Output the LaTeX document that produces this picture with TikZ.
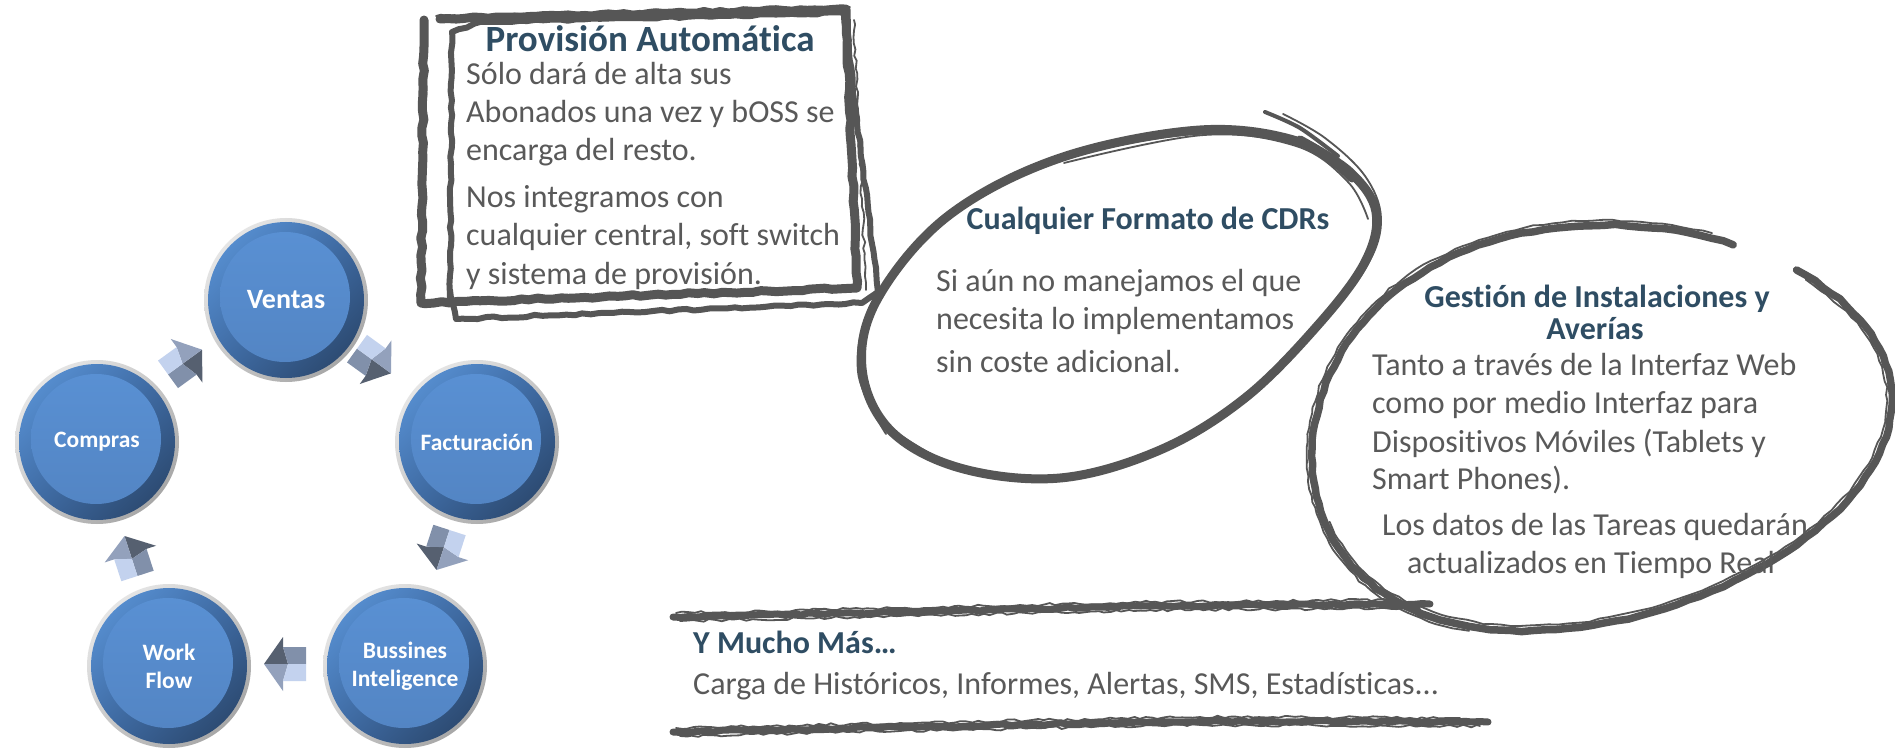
\documentclass[tikz,border=0pt]{standalone}
\usepackage{fontspec}
\setmainfont{Carlito}[Ligatures=NoCommon]
\usetikzlibrary{decorations.pathmorphing,shadings}
\definecolor{skc}{HTML}{565656}
\definecolor{bodyc}{HTML}{595959}
\definecolor{titc}{HTML}{2F4D63}
\definecolor{rimA}{HTML}{F2F2F2}
\definecolor{rimB}{HTML}{C8C8C8}
\definecolor{rimC}{HTML}{999999}
\definecolor{ringA}{HTML}{5E9ADF}
\definecolor{ringB}{HTML}{3E6AA3}
\definecolor{ringC}{HTML}{263F60}
\definecolor{discA}{HTML}{5990D3}
\definecolor{discB}{HTML}{5385C4}
\definecolor{arD}{HTML}{566070}
\definecolor{arM}{HTML}{8190AA}
\definecolor{arL}{HTML}{C3D2EE}
\definecolor{arN}{HTML}{93A1BC}
\begin{document}
\begin{tikzpicture}[x=1pt,y=-1pt,
  ctext/.style={text=white, font=\fontsize{23.5}{28}\selectfont\bfseries, align=center, inner sep=0pt},
  body/.style={text=bodyc, font=\fontsize{32}{38}\selectfont, inner sep=0pt},
  ttl/.style={text=titc, font=\fontsize{32}{30}\selectfont\bfseries, inner sep=0pt},
  sketch/.style={draw=skc, line join=round, line cap=round},
  rough/.style={sketch, decorate, decoration={random steps, segment length=8pt, amplitude=1pt}},
  strand/.style={rough, line width=1.8pt, decoration={random steps, segment length=6pt, amplitude=1.4pt}},
  cstrand/.style={sketch, line width=1.8pt},
  carrow/.pic={
    \fill[arD] (21,0) -- (2,27) -- (2,17) -- (-3,0) -- cycle;
    \fill[arN] (21,0) -- (2,-27) -- (2,-17) -- (-3,0) -- cycle;
    \fill[arM] (-3,0) -- (2,17) -- (-21,17) -- (-21,0) -- cycle;
    \fill[arL] (-3,0) -- (2,-17) -- (-21,-17) -- (-21,0) -- cycle;
  }]
\pgfmathsetseed{7}
\useasboundingbox (0,0) rectangle (1895,751);
\fill[white] (0,0) rectangle (1895,751);

% ---------- cycle ----------
\foreach \n/\cx/\cy in {ventas/286/300,fact/477/442,buss/405/666,work/169/666,compras/97/442}{
  \coordinate (\n) at (\cx,\cy);
  \shade[upper left=rimA, upper right=rimB, lower left=rimB, lower right=rimC] (\n) circle (82pt);
  \shade[upper left=ringA, upper right=ringB, lower left=ringB, lower right=ringC] (\n) circle (78pt);
  \shade[top color=discA, bottom color=discB] ([shift={(-1,-3)}]\n) circle (65pt);
}
\node[ctext, font=\fontsize{28}{30}\selectfont\bfseries] (ventasT) at (ventas) {Ventas};
\node[ctext] (factT) at (fact) {Facturación};
\node[ctext] (bussT) at (buss) {Bussines\\Inteligence};
\node[ctext] (workT) at (work) {Work\\Flow};
\node[ctext] (comprasT) at (compras) {Compras};

\pic[rotate=-36] (a1) at (374,361) {carrow};
\pic[rotate=-108] (a2) at (443,550) {carrow};
\pic[rotate=180] (a3) at (285,664) {carrow};
\pic[rotate=108] (a4) at (131,556) {carrow};
\pic[rotate=36] (a5) at (185,362) {carrow};

% ---------- Provision box ----------
\draw[rough, line width=9pt] (440,19) -- (846,9) -- (857,288) -- (421,303) -- (424,20);
\draw[rough, line width=6pt] (424,30) -- (421,298);
\draw[rough, line width=6pt] (450,300) -- (452,32) -- (480,22) -- (844,13) -- (878,292) -- (862,303) -- (456,319) -- (450,290);
\draw[strand] (436,16) -- (850,7);
\draw[strand] (854,20) -- (866,290);

\node[ttl, font=\fontsize{37}{37}\selectfont\bfseries, anchor=base] (provT) at (650,52) {Provisión Automática};
\node[body, anchor=base west] (p1) at (466,85) {Sólo dará de alta sus};
\node[body, anchor=base west] (p2) at (466,123) {Abonados una vez y bOSS se};
\node[body, anchor=base west] (p3) at (466,161) {encarga del resto.};
\node[body, anchor=base west] (p4) at (466,208) {Nos integramos con};
\node[body, anchor=base west] (p5) at (466,246) {cualquier central, soft switch};
\node[body, anchor=base west] (p6) at (466,285) {y sistema de provisión.};

% ---------- Cualquier ellipse ----------
\draw[sketch, line width=9pt] plot[smooth, tension=0.6] coordinates {(1300,140) (1350,172) (1376,212) (1365,262) (1318,325) (1245,398) (1160,450) (1060,478) (960,468) (890,430) (862,368) (878,298) (948,216) (1060,158) (1200,130) (1300,142) (1352,178)};
\begin{scope}[shift={(3,-4)}]
\draw[cstrand] plot[smooth, tension=0.6] coordinates {(1280,118) (1322,142) (1362,180) (1378,222) (1365,268) (1318,330) (1245,402) (1160,454) (1060,482) (960,472) (890,434)};
\end{scope}
\begin{scope}[shift={(-4,4)}]
\draw[cstrand] plot[smooth, tension=0.6] coordinates {(890,430) (862,368) (878,298) (948,216) (1060,158) (1200,130) (1300,142) (1352,178) (1372,215)};
\end{scope}
\begin{scope}[shift={(4,5)}]
\draw[cstrand] plot[smooth, tension=0.6] coordinates {(1060,158) (1200,130) (1300,142) (1352,178) (1372,215) (1360,265)};
\end{scope}
\draw[sketch, line width=4pt] plot[smooth] coordinates {(1265,112) (1300,128) (1338,156)};

\node[ttl, anchor=base] (cdrT) at (1148,230) {Cualquier Formato de CDRs};
\node[body, anchor=base west] (c1) at (936,292) {Si aún no manejamos el que};
\node[body, anchor=base west] (c2) at (936,330) {necesita lo implementamos};
\node[body, anchor=base west] (c3) at (936,372) {sin coste adicional.};

% ---------- Gestion ellipse ----------
\draw[sketch, line width=7.5pt] plot[domain=57:403, samples=150] ({1565+(290+37*cos(\x))*cos(\x)+0.8*rand}, {428-201*sin(\x)-28*cos(\x)+0.8*rand});
\draw[cstrand] plot[domain=62:250, samples=100] ({1565+(295+37*cos(\x))*cos(\x)+rand}, {428-206*sin(\x)-28*cos(\x)+rand});
\draw[cstrand] plot[domain=200:400, samples=100] ({1565+(285+37*cos(\x))*cos(\x)+rand}, {428-196*sin(\x)-28*cos(\x)+rand});

\node[ttl, anchor=base] (gesT1) at (1597,308) {Gestión de Instalaciones y};
\node[ttl, anchor=base] (gesT2) at (1595,339) {Averías};
\node[body, anchor=base west] (g1) at (1372,375) {Tanto a través de la Interfaz Web};
\node[body, anchor=base west] (g2) at (1372,413) {como por medio Interfaz para};
\node[body, anchor=base west] (g3) at (1372,452) {Dispositivos Móviles (Tablets y};
\node[body, anchor=base west] (g4) at (1372,489) {Smart Phones).};
\node[body, anchor=base] (g5) at (1595,535) {Los datos de las Tareas quedarán};
\node[body, anchor=base] (g6) at (1591,573) {actualizados en Tiempo Real};

% ---------- Y mucho mas ----------
\draw[rough, line width=7pt] (673,617) -- (900,612) -- (1150,606) -- (1430,604);
\draw[strand] (676,613) -- (900,608) -- (1150,602) -- (1400,600);
\draw[strand] (680,621) -- (900,616) -- (1150,610) -- (1420,608);
\draw[rough, line width=7pt] (673,732) -- (900,727) -- (1200,721) -- (1488,722);
\draw[strand] (676,728) -- (900,723) -- (1200,717) -- (1460,718);
\draw[strand] (680,736) -- (900,731) -- (1200,725) -- (1480,726);

\node[ttl, anchor=base west] (ymT) at (693,653) {Y Mucho Más…};
\node[body, anchor=base west] (ym1) at (693,694) {Carga de Históricos, Informes, Alertas, SMS, Estadísticas...};
\end{tikzpicture}
\end{document}
